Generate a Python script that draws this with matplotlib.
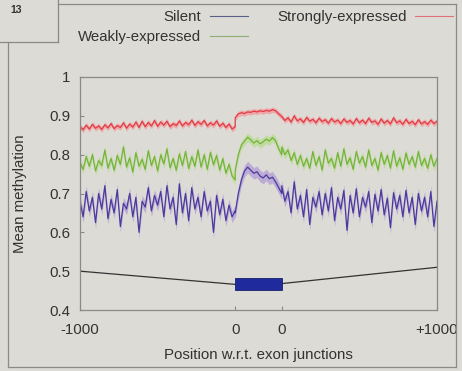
import numpy as np
import matplotlib
matplotlib.use("Agg")
import matplotlib.pyplot as plt
from matplotlib.patches import Rectangle
from matplotlib.lines import Line2D

plt.rcParams['font.family'] = ['Liberation Sans', 'DejaVu Sans']

series_names = ["Silent", "Weakly-expressed", "Strongly-expressed"]
x_tick_labels = ["-1000", "0", "0", "+1000"]
y_ticks = [0.4, 0.5, 0.6, 0.7, 0.8, 0.9, 1.0]
y_tick_labels = ["0.4", "0.5", "0.6", "0.7", "0.8", "0.9", "1"]

# ---- Strongly-expressed (red)
strong_up = [0.872,0.864,0.876,0.866,0.878,0.868,0.874,0.865,0.877,0.869,0.880,0.867,0.875,0.870,0.882,0.868,0.879,0.871,0.884,0.870,0.886,0.872,0.883,0.874,0.888,0.873,0.884,0.876,0.886,0.872,0.880,0.875,0.887,0.874,0.883,0.877,0.889,0.875,0.885,0.878,0.888,0.874,0.882,0.876,0.887,0.873,0.881,0.870,0.879,0.866,0.872]
strong_exon = [0.895,0.905,0.908,0.906,0.910,0.909,0.912,0.910,0.913,0.911,0.914,0.912,0.916,0.913,0.905,0.898]
strong_down = [0.898,0.888,0.895,0.884,0.900,0.887,0.892,0.883,0.896,0.886,0.891,0.882,0.894,0.885,0.890,0.881,0.893,0.884,0.889,0.880,0.892,0.883,0.888,0.879,0.893,0.882,0.889,0.880,0.894,0.883,0.887,0.878,0.892,0.881,0.888,0.879,0.895,0.882,0.887,0.878,0.891,0.880,0.886,0.877,0.890,0.879,0.885,0.878,0.889,0.880,0.886]

# ---- Weakly-expressed (green)
weak_up = [0.780,0.762,0.795,0.770,0.800,0.758,0.785,0.772,0.812,0.765,0.790,0.760,0.798,0.775,0.820,0.768,0.792,0.755,0.805,0.770,0.788,0.762,0.810,0.772,0.795,0.758,0.800,0.776,0.815,0.766,0.790,0.760,0.802,0.772,0.808,0.764,0.795,0.770,0.812,0.768,0.800,0.762,0.806,0.774,0.798,0.760,0.790,0.752,0.775,0.745,0.735]
weak_exon = [0.760,0.800,0.825,0.835,0.845,0.838,0.830,0.836,0.828,0.833,0.840,0.835,0.844,0.836,0.815,0.800]
weak_down = [0.820,0.800,0.812,0.785,0.805,0.775,0.798,0.770,0.790,0.765,0.808,0.772,0.795,0.760,0.812,0.778,0.790,0.765,0.805,0.770,0.815,0.775,0.792,0.762,0.808,0.778,0.795,0.768,0.812,0.772,0.790,0.760,0.805,0.775,0.798,0.765,0.810,0.770,0.792,0.762,0.804,0.775,0.795,0.768,0.808,0.772,0.790,0.765,0.800,0.770,0.790]

# ---- Silent (purple)
silent_up = [0.680,0.640,0.705,0.655,0.690,0.625,0.700,0.660,0.720,0.635,0.685,0.650,0.710,0.615,0.675,0.660,0.700,0.640,0.690,0.600,0.680,0.665,0.715,0.655,0.695,0.670,0.705,0.640,0.720,0.660,0.690,0.620,0.725,0.650,0.700,0.630,0.715,0.660,0.690,0.640,0.705,0.655,0.680,0.600,0.695,0.645,0.685,0.630,0.670,0.640,0.655]
silent_exon = [0.650,0.700,0.735,0.758,0.768,0.760,0.752,0.756,0.745,0.740,0.748,0.738,0.742,0.730,0.715,0.700]
silent_down = [0.720,0.680,0.705,0.650,0.730,0.660,0.695,0.640,0.710,0.620,0.690,0.665,0.705,0.645,0.700,0.655,0.715,0.630,0.690,0.660,0.708,0.605,0.695,0.650,0.712,0.640,0.690,0.665,0.705,0.625,0.698,0.655,0.710,0.645,0.688,0.612,0.702,0.660,0.695,0.640,0.708,0.650,0.690,0.620,0.700,0.655,0.690,0.640,0.705,0.615,0.680]

# gene model: line y at [-1000, exon start, exon end, +1000]
gene_line_y = [0.500, 0.466, 0.468, 0.510]
exon_box_y = [0.452, 0.483]

EXON_W = 300  # display width for the exon body
up_x = np.linspace(0, 1000, len(strong_up))
ex_x = np.linspace(1000, 1000 + EXON_W, len(strong_exon))
dn_x = np.linspace(1000 + EXON_W, 2000 + EXON_W, len(strong_down))
X = np.concatenate([up_x, ex_x, dn_x])

FS = 10.8
TXT = "#333333"
bg = "#dcdbd5"
fig = plt.figure(figsize=(4.62, 3.71), dpi=100, facecolor=bg)
ax = fig.add_axes([80/462, 1-310/371, 357/462, 233/371], facecolor=bg)

styles = {
    "Silent": dict(line="#4a3a9e", band="#b9a6d6", hw=0.015, leg="#5a5f8a"),
    "Weakly-expressed": dict(line="#74b43a", band="#bddb98", hw=0.011, leg="#8fae74"),
    "Strongly-expressed": dict(line="#e23a44", band="#efa3a3", hw=0.007, leg="#e0707a"),
}
data = {
    "Silent": silent_up + silent_exon + silent_down,
    "Weakly-expressed": weak_up + weak_exon + weak_down,
    "Strongly-expressed": strong_up + strong_exon + strong_down,
}
for name in ["Strongly-expressed", "Weakly-expressed", "Silent"]:
    y = np.array(data[name])
    st = styles[name]
    ax.fill_between(X, y - st["hw"], y + st["hw"], color=st["band"], lw=0, alpha=0.9)
    ax.plot(X, y, color=st["line"], lw=0.9)

# gene model
ax.plot([0, 1000], gene_line_y[:2], color="#333333", lw=0.9)
ax.plot([1000 + EXON_W, 2000 + EXON_W], gene_line_y[2:], color="#333333", lw=0.9)
ax.add_patch(Rectangle((1000, exon_box_y[0]), EXON_W, exon_box_y[1] - exon_box_y[0],
                       facecolor="#1f2a9c", edgecolor="#15206e", lw=0.6, zorder=5))

ax.set_xlim(0, 2000 + EXON_W)
ax.set_ylim(0.4, 1.0)
ax.set_xticks([0, 1000, 1000 + EXON_W, 2000 + EXON_W])
ax.set_xticklabels(x_tick_labels)
ax.set_yticks(y_ticks)
ax.set_yticklabels(y_tick_labels)
ax.tick_params(direction="in", length=3, colors="#888888", labelcolor=TXT, labelsize=FS)
ax.tick_params(axis="x", pad=9)
ax.tick_params(axis="y", pad=7)
for s in ax.spines.values():
    s.set_color("#8a8a88")
    s.set_linewidth(0.9)

ax.set_xlabel("Position w.r.t. exon junctions", fontsize=FS, color=TXT, labelpad=8)
ax.set_ylabel("Mean methylation", fontsize=FS, color=TXT, labelpad=16)

handles = [Line2D([], [], color=styles[n]["leg"], lw=0.8) for n in series_names]
leg = fig.legend(handles, series_names, ncol=2, markerfirst=False, frameon=False,
                 loc="upper left", bbox_to_anchor=(78/462, 1 - 10/371), fontsize=FS,
                 borderpad=0, borderaxespad=0,
                 handlelength=2.5, columnspacing=1.95, labelspacing=0.4, handletextpad=0.6)
for t in leg.get_texts():
    t.set_color(TXT)
    t.set_ha("right")

# figure frame and tab
fc = "#8a8a88"
fig.add_artist(Line2D([58/462, 456/462], [1-4/371, 1-4/371], color=fc, lw=0.9))
fig.add_artist(Line2D([456/462, 456/462], [1-4/371, 1-367/371], color=fc, lw=0.9))
fig.add_artist(Line2D([8/462, 456/462], [1-367/371, 1-367/371], color=fc, lw=0.9))
fig.add_artist(Line2D([8/462, 8/462], [1-42/371, 1-367/371], color=fc, lw=0.9))
fig.add_artist(Line2D([0, 58/462], [1-42/371, 1-42/371], color=fc, lw=0.9))
fig.add_artist(Line2D([58/462, 58/462], [1, 1-42/371], color=fc, lw=0.9))
fig.text(10/462, 1-10/371, "13", fontsize=7.5, color=TXT, va="center", ha="left", weight="bold")

fig.savefig("out.png", dpi=100, facecolor=bg)
